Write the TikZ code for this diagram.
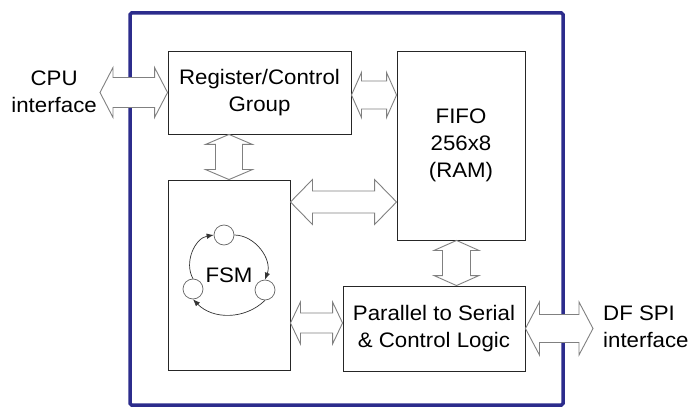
\documentclass[tikz,border=0pt]{standalone}
\usepackage{fontspec}
\setmainfont{Liberation Sans}[FakeStretch=1.06]
\usepackage{tikz}
\usetikzlibrary{arrows.meta,positioning,calc}

\definecolor{chipblue}{RGB}{44,44,140}
\definecolor{arrowgray}{RGB}{128,128,128}

% fat double-headed bus arrows: start, end, half shaft, half head, head length
\newcommand{\hbus}[5]{%
  \draw[busarrow] let \p1=#1, \p2=#2 in
    (\p1) -- (\x1+#5,\y1+#4) -- (\x1+#5,\y1+#3) -- (\x2-#5,\y1+#3) -- (\x2-#5,\y1+#4)
    -- (\x2,\y1) -- (\x2-#5,\y1-#4) -- (\x2-#5,\y1-#3) -- (\x1+#5,\y1-#3) -- (\x1+#5,\y1-#4) -- cycle;}
\newcommand{\vbus}[5]{%
  \draw[busarrow] let \p1=#1, \p2=#2 in
    (\p1) -- (\x1+#4,\y1-#5) -- (\x1+#3,\y1-#5) -- (\x1+#3,\y2+#5) -- (\x1+#4,\y2+#5)
    -- (\x1,\y2) -- (\x1-#4,\y2+#5) -- (\x1-#3,\y2+#5) -- (\x1-#3,\y1-#5) -- (\x1-#4,\y1-#5) -- cycle;}

\begin{document}
\begin{tikzpicture}[
  x=1pt, y=-1pt,
  every node/.style={font=\fontsize{21}{27}\selectfont},
  block/.style={rectangle, draw=black!85, line width=0.9pt, fill=white, align=center, inner sep=0pt},
  busarrow/.style={draw=arrowgray, line width=0.9pt, fill=white, line join=miter},
  fsmstate/.style={circle, draw=black!60, line width=0.7pt, minimum size=20pt, inner sep=0pt},
  loop/.style={-{Latex[length=7pt,width=5.5pt]}, black!80, line width=0.7pt}
]
\useasboundingbox (0,0) rectangle (691,409);

% chip outline
\draw[chipblue, line width=3.5pt, rounded corners=1.5pt] (130,13) rectangle (563,405);

\node[block, minimum width=183pt, minimum height=83pt] (reg) at (259.5,92.5) {Register/Control\\Group};
\node[block, minimum width=128pt, minimum height=189pt] (fifo) at (461,145.5) {FIFO\\256x8\\(RAM)};
\node[block, minimum width=122pt, minimum height=190pt] (fsm) at (229,275) {FSM};
\node[block, minimum width=182pt, minimum height=85pt] (par) at (434,328.5) {Parallel to Serial\\\& Control Logic};

\node[align=center, anchor=east, inner sep=0pt] (cpu) at (97,92) {CPU\\interface};
\node[align=left, anchor=west, inner sep=0pt] (spi) at (603,327) {DF SPI\\interface};
\coordinate (cpuin) at ([xshift=3pt]cpu.east);
\coordinate (spiin) at ([xshift=-10pt]spi.west);

% states of the FSM
\node[fsmstate] (st) at (224,235) {};
\node[fsmstate] (sl) at (193,289) {};
\node[fsmstate] (sr) at (265,290) {};
\draw[loop] (sl.north) to[bend left=55] (st.west);
\draw[loop] (st.east) to[bend left=55] (sr.north);
\draw[loop] (sr.south) to[bend left=45] (sl.south);

% buses
\hbus{(cpuin |- reg.west)}{(reg.west)}{15pt}{25pt}{13pt}
\hbus{([yshift=-2.5pt]reg.east)}{(fifo.west)}{14pt}{22.5pt}{10pt}
\vbus{(fsm.north |- reg.south)}{(fsm.north)}{13.5pt}{23.5pt}{10pt}
\hbus{([yshift=73pt]fsm.east)}{(fifo.west)}{11pt}{22.5pt}{22pt}
\hbus{([yshift=-48pt]fsm.east)}{(par.west)}{10pt}{21pt}{10pt}
\vbus{([xshift=-4.5pt]fifo.south)}{(par.north)}{14pt}{22.5pt}{10pt}
\hbus{(par.east)}{(spiin)}{14pt}{26.5pt}{14pt}
\end{tikzpicture}
\end{document}
